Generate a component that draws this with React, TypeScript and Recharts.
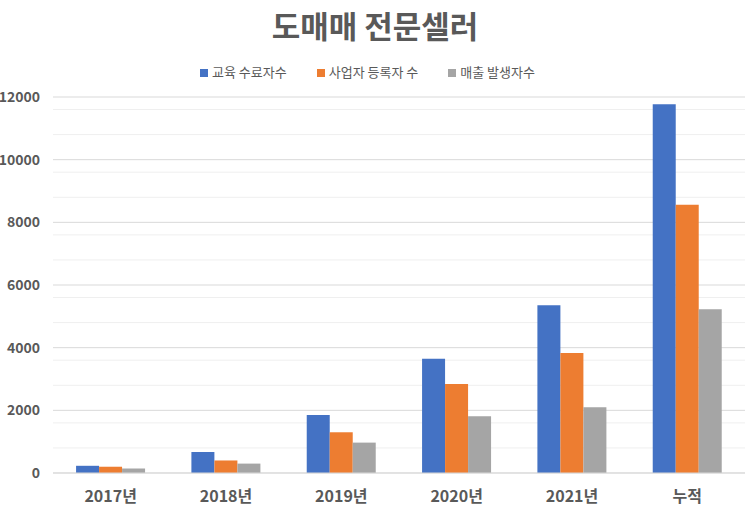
import { BarChart, Bar, XAxis, YAxis, CartesianGrid, Legend } from 'recharts'

const categories = ['2017년', '2018년', '2019년', '2020년', '2021년', '누적']
const graduates = [230, 670, 1850, 3650, 5350, 11770]
const registered = [200, 400, 1300, 2840, 3830, 8560]
const withSales = [140, 300, 970, 1810, 2100, 5230]
const yTicks = [0, 2000, 4000, 6000, 8000, 10000, 12000]
const minorTicks = [400, 800, 1200, 1600, 2400, 2800, 3200, 3600, 4400, 4800, 5200, 5600, 6400, 6800, 7200, 7600, 8400, 8800, 9200, 9600, 10400, 10800, 11200, 11600]

const data = categories.map((name, i) => ({
  name,
  a: graduates[i],
  b: registered[i],
  c: withSales[i],
}))

const font = "'Noto Sans CJK KR', 'Noto Sans', sans-serif"
const textColor = '#595959'

export default function App() {
  return (
    <div style={{ position: 'absolute', left: 0, top: 0, width: 750, height: 517, background: '#fff', fontFamily: font }}>
      <div
        style={{
          position: 'absolute',
          top: 3,
          left: 0,
          width: 750,
          textAlign: 'center',
          fontSize: 31,
          fontWeight: 700,
          color: textColor,
          lineHeight: '44px',
        }}
      >
        도매매 전문셀러
      </div>
      <BarChart
        width={750}
        height={517}
        data={data}
        margin={{ top: 78, right: 5, bottom: 14, left: 0 }}
        barCategoryGap="20%"
        barGap={0}
      >
        <CartesianGrid vertical={false} horizontalValues={minorTicks} stroke="#efefef" />
        <CartesianGrid vertical={false} horizontalValues={yTicks} stroke="#d9d9d9" />
        <XAxis
          dataKey="name"
          tickLine={false}
          axisLine={{ stroke: '#d9d9d9' }}
          height={30}
          tick={{ fill: textColor, fontSize: 16, fontWeight: 700, fontFamily: font }}
          dy={10}
        />
        <YAxis
          width={53}
          domain={[0, 12000]}
          ticks={yTicks}
          tickLine={false}
          axisLine={false}
          tick={{ fill: textColor, fontSize: 14, fontWeight: 700, fontFamily: font }}
          dx={-5}
        />
        <Legend
          verticalAlign="top"
          align="center"
          iconType="square"
          iconSize={8}
          itemSorter="dataKey"
          wrapperStyle={{ top: 62, fontSize: 13, fontFamily: font }}
          formatter={(value, _entry, index) => (
            <span style={{ color: textColor, marginRight: index < 2 ? 20 : 0 }}>{value}</span>
          )}
        />
        <Bar dataKey="a" name="교육 수료자수" fill="#4472c4" isAnimationActive={false} />
        <Bar dataKey="b" name="사업자 등록자 수" fill="#ed7d31" isAnimationActive={false} />
        <Bar dataKey="c" name="매출 발생자수" fill="#a5a5a5" isAnimationActive={false} />
      </BarChart>
    </div>
  )
}
